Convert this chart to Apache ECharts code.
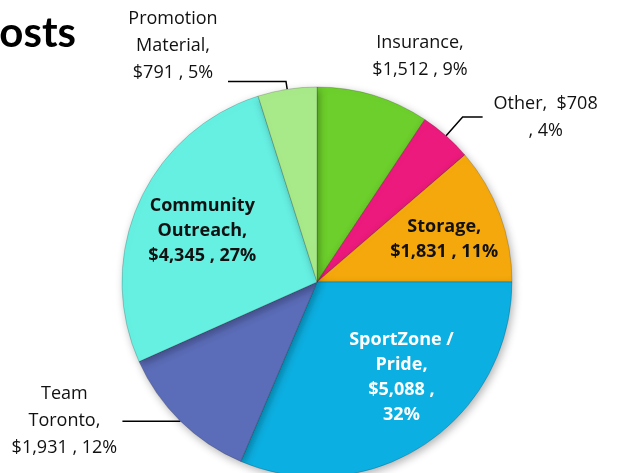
<!DOCTYPE html>
<html>
<head>
<meta charset="utf-8">
<script src="https://cdn.jsdelivr.net/npm/echarts@6/dist/echarts.min.js"></script>
<style>
  html, body { margin: 0; padding: 0; background: #fff; }
  #main { width: 622px; height: 473px; }
</style>
</head>
<body>
<div id="main"></div>
<script>
// slices clockwise from 12 o'clock
const categories = ['Insurance', 'Other', 'Storage', 'SportZone /\nPride', 'Team\nToronto', 'Community\nOutreach', 'Promotion\nMaterial'];
const costs = [1512, 708, 1831, 5088, 1931, 4345, 791];
const percents = [9, 4, 11, 32, 12, 27, 5];
const colors = ['#6ccf2b', '#ec1a7c', '#f4a80c', '#0cafe1', '#5b6cb8', '#66f0e2', '#a8ea8a'];

const FONT = '"Open Sans", Lato, sans-serif';
const money = (v) => '$' + v.toLocaleString('en-US');

function labelText(i) {
  const n = categories[i], m = money(costs[i]), p = percents[i] + '%';
  if (i === 1) return n + ',  ' + m + '\n, ' + p;
  if (i === 3) return n + ',\n' + m + ' ,\n' + p;
  return n + ',\n' + m + ' , ' + p;
}

// outside labels: lines centred in a box of width w
const outside = {
  0: { w: 110, len: 30, len2: 0, line: false },
  1: { w: 116, len: 25, len2: 20, line: true },
  4: { w: 106, len: 0, len2: 58, line: true },
  6: { w: 100, len: 8, len2: 58, line: true, tail: true },
};
// nudges for labels
const nudge = {
  0: { dx: -22, dy: -10 },
  2: { dx: 33, dy: -8 },
  3: { dx: 29, dy: 12 },
  5: { dx: -23, dy: -10 },
};

const data = costs.map((v, i) => {
  const item = { name: categories[i], value: v, itemStyle: { color: colors[i] } };
  const o = outside[i];
  if (o) {
    let txt = labelText(i).split('\n').map((l) => '{c|' + l + '}').join('\n');
    if (o.tail) txt += '\n{g| }';
    item.label = {
      position: 'outside',
      formatter: txt,
      rich: {
        c: { width: o.w, align: 'center', fontSize: 18, lineHeight: 27, color: '#111', fontFamily: FONT },
        g: { lineHeight: 72, fontSize: 10 },
      },
    };
    item.labelLine = { show: o.line, length: o.len, length2: o.len2 };
  } else {
    item.label = {
      position: 'inside',
      formatter: labelText(i),
      fontWeight: 'bold',
      fontSize: 18,
      lineHeight: 25,
      color: i === 3 ? '#fff' : '#111',
      fontFamily: FONT,
    };
  }
  return item;
});

const chart = echarts.init(document.getElementById('main'));
chart.setOption({
  animation: false,
  graphic: [{
    type: 'text',
    left: -28,
    top: 12,
    style: { text: 'Costs', font: 'bold 42px Lato, sans-serif', fill: '#000' },
  }],
  series: [{
    type: 'pie',
    center: [317, 282],
    radius: 195,
    startAngle: 90,
    clockwise: true,
    avoidLabelOverlap: false,
    itemStyle: {
      borderColor: 'rgba(0,0,0,0.18)',
      borderWidth: 1,
      shadowBlur: 8,
      shadowColor: 'rgba(0,0,0,0.3)',
      shadowOffsetX: 2,
      shadowOffsetY: 3,
    },
    labelLine: { smooth: false, lineStyle: { color: '#000', width: 1.5 } },
    labelLayout: (p) => nudge[p.dataIndex],
    emphasis: { disabled: true },
    data: data,
  }],
});
</script>
</body>
</html>
